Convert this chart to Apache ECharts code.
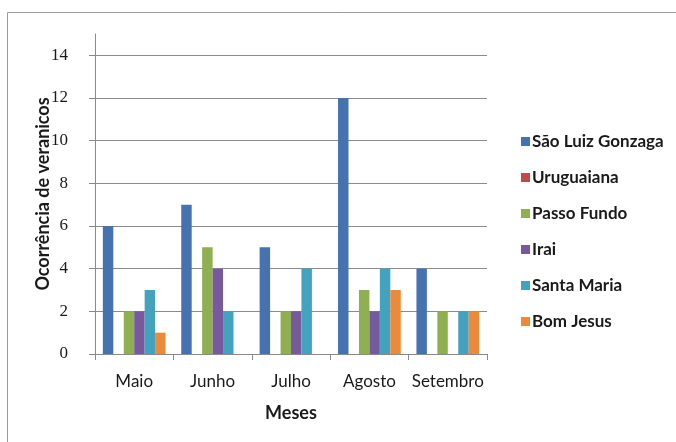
<!DOCTYPE html>
<html>
<head>
<meta charset="utf-8">
<script src="https://cdn.jsdelivr.net/npm/echarts@6/dist/echarts.min.js"></script>
<style>
  html, body { margin: 0; padding: 0; background: #fff; }
  #chart { width: 676px; height: 442px; }
</style>
</head>
<body>
<div id="chart"></div>
<script>
// Months on the category axis
const months = ['Maio', 'Junho', 'Julho', 'Agosto', 'Setembro'];

// Occurrences of dry spells per station and month
const saoLuizGonzaga = [6, 7, 5, 12, 4];
const uruguaiana     = [0, 0, 0, 0, 0];
const passoFundo     = [2, 5, 2, 3, 2];
const irai           = [2, 4, 2, 2, 0];
const santaMaria     = [3, 2, 4, 4, 2];
const bomJesus       = [1, 0, 0, 3, 2];

const stations = [
  { name: 'São Luiz Gonzaga', data: saoLuizGonzaga, color: '#4672B0' },
  { name: 'Uruguaiana',       data: uruguaiana,     color: '#BE4B48' },
  { name: 'Passo Fundo',      data: passoFundo,     color: '#8FB050' },
  { name: 'Irai',             data: irai,           color: '#775A9E' },
  { name: 'Santa Maria',      data: santaMaria,     color: '#43A2BE' },
  { name: 'Bom Jesus',        data: bomJesus,       color: '#EC8A3C' }
];

const chart = echarts.init(document.getElementById('chart'), null, { renderer: 'canvas' });

chart.setOption({
  backgroundColor: '#ffffff',
  animation: false,
  graphic: [{
    type: 'rect',
    shape: { x: 7.5, y: 12.5, width: 700, height: 460 },
    style: { fill: 'none', stroke: '#9a9a9a', lineWidth: 1 },
    silent: true
  }],
  grid: { left: 95, right: 189, top: 34, bottom: 88 },
  legend: {
    orient: 'vertical',
    left: 516,
    top: 128,
    itemWidth: 9,
    itemHeight: 9,
    itemGap: 19,
    icon: 'rect',
    textStyle: { fontFamily: 'Lato', fontWeight: 'bold', fontSize: 17, color: '#1a1a1a', padding: [0, 0, 0, -3] },
    data: stations.map(s => s.name)
  },
  xAxis: {
    type: 'category',
    data: months,
    name: 'Meses',
    nameLocation: 'middle',
    nameGap: 50,
    nameTextStyle: { fontFamily: 'Lato', fontWeight: 'bold', fontSize: 18, color: '#1a1a1a' },
    axisLine: { lineStyle: { color: '#8a8a8a' } },
    axisTick: { show: true, length: 6, lineStyle: { color: '#8a8a8a' } },
    axisLabel: { interval: 0, fontFamily: 'Lato', fontSize: 17, color: '#1a1a1a', margin: 19 }
  },
  yAxis: {
    type: 'value',
    min: 0,
    max: 15,
    interval: 2,
    name: 'Ocorrência de veranicos',
    nameLocation: 'middle',
    nameGap: 43,
    nameMoveOverlap: false,
    nameRotate: 90,
    nameTextStyle: { fontFamily: 'Lato', fontWeight: 'bold', fontSize: 18, color: '#1a1a1a' },
    axisLine: { show: true, lineStyle: { color: '#8a8a8a' } },
    axisTick: { show: true, length: 6, lineStyle: { color: '#8a8a8a' } },
    axisLabel: { fontFamily: 'Liberation Serif', fontSize: 17, color: '#1a1a1a', margin: 27, showMaxLabel: false },
    splitLine: { show: true, showMaxLine: false, lineStyle: { color: '#8c8c8c', width: 1 } }
  },
  series: stations.map(s => ({
    name: s.name,
    type: 'bar',
    data: s.data,
    itemStyle: { color: s.color },
    barGap: '0%',
    barCategoryGap: '20%'
  }))
});
</script>
</body>
</html>
